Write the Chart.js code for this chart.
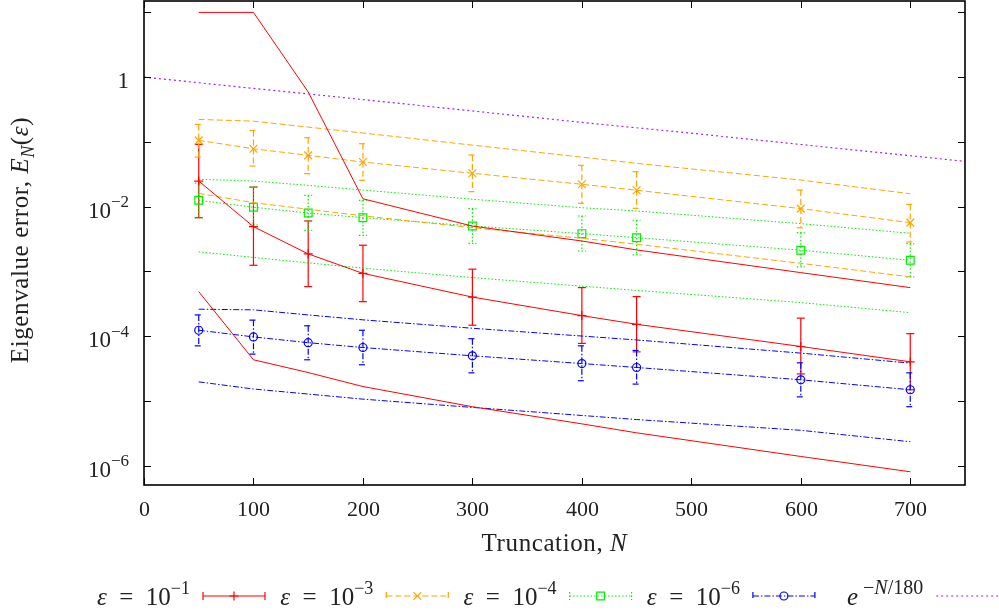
<!DOCTYPE html>
<html>
<head>
<meta charset="utf-8">
<script src="https://cdn.jsdelivr.net/npm/chart.js@4.4.1/dist/chart.umd.min.js"></script>
<style>
  body { margin: 0; background: #fff; }
  canvas { display: block; }
</style>
</head>
<body>
<canvas id="errChart" width="999" height="614"></canvas>
<script>
// truncation sizes where the errors were measured
const truncN = [50, 100, 150, 200, 300, 400, 450, 600, 700];

// eps = 1e-1
const e1Mean  = [0.0248, 4.9e-3, 1.86e-3, 9.3e-4, 4.0e-4, 2.07e-4, 1.52e-4, 6.9e-5, 4.0e-5];
const e1ErrHi = [0.0914, 0.020, 6.0e-3, 2.53e-3, 1.08e-3, 5.6e-4, 4.07e-4, 1.89e-4, 1.09e-4];
const e1ErrLo = [6.74e-3, 1.24e-3, 5.8e-4, 3.4e-4, 1.47e-4, 7.7e-5, 5.7e-5, 2.6e-5, 1.48e-5];
const e1Max   = [10, 10, 0.59, 0.0132, 5.0e-3, 2.94e-3, 2.14e-3, 9.55e-4, 5.6e-4];
const e1Min   = [4.86e-4, 4.3e-5, 2.73e-5, 1.66e-5, 8.1e-6, 4.4e-6, 3.2e-6, 1.38e-6, 8.0e-7];

// eps = 1e-3
const e3Mean  = [0.1055, 0.0783, 0.0619, 0.0488, 0.0327, 0.0221, 0.0179, 9.3e-3, 5.65e-3];
const e3ErrHi = [0.186, 0.150, 0.1157, 0.0935, 0.0626, 0.0434, 0.0346, 0.018, 0.0108];
const e3ErrLo = [0.0583, 0.0423, 0.0322, 0.0255, 0.017, 0.01125, 9.4e-3, 4.7e-3, 2.84e-3];
const e3Max   = [0.222, 0.209, 0.169, 0.137, 0.089, 0.058, 0.0466, 0.0257, 0.0158];
const e3Min   = [0.016, 0.0115, 9.1e-3, 7.2e-3, 4.72e-3, 3.24e-3, 2.62e-3, 1.33e-3, 8.2e-4];

// eps = 1e-4
const e4Mean  = [0.0125, 9.76e-3, 7.96e-3, 6.74e-3, 5.02e-3, 3.82e-3, 3.31e-3, 2.12e-3, 1.48e-3];
const e4ErrHi = [0.0231, 0.0202, 0.0149, 0.0125, 9.3e-3, 7.16e-3, 6.15e-3, 3.96e-3, 2.67e-3];
const e4ErrLo = [6.67e-3, 5.2e-3, 4.3e-3, 3.6e-3, 2.71e-3, 2.06e-3, 1.79e-3, 1.17e-3, 8.2e-4];
const e4Max   = [0.0264, 0.0248, 0.0213, 0.018, 0.013, 9.6e-3, 8.55e-3, 5.45e-3, 3.87e-3];
const e4Min   = [2.0e-3, 1.64e-3, 1.35e-3, 1.12e-3, 8.0e-4, 5.9e-4, 5.07e-4, 3.29e-4, 2.3e-4];

// eps = 1e-6
const e6Mean  = [1.23e-4, 9.7e-5, 7.9e-5, 6.65e-5, 4.95e-5, 3.76e-5, 3.27e-5, 2.11e-5, 1.48e-5];
const e6ErrHi = [2.12e-4, 1.76e-4, 1.44e-4, 1.23e-4, 9.1e-5, 7.06e-5, 6.0e-5, 3.86e-5, 2.7e-5];
const e6ErrLo = [7.06e-5, 5.26e-5, 4.3e-5, 3.6e-5, 2.7e-5, 2.04e-5, 1.81e-5, 1.15e-5, 8.1e-6];
const e6Max   = [2.6e-4, 2.54e-4, 2.12e-4, 1.78e-4, 1.32e-4, 1.0e-4, 8.7e-5, 5.45e-5, 3.82e-5];
const e6Min   = [1.96e-5, 1.52e-5, 1.27e-5, 1.06e-5, 7.9e-6, 5.93e-6, 5.13e-6, 3.5e-6, 2.33e-6];

// reference curve e^{-N/180}
const expN   = [0, 100, 200, 300, 400, 500, 600, 700, 750];
const expVal = [1.0, 0.67, 0.45, 0.30, 0.20, 0.136, 0.091, 0.061, 0.050];

// axis ticks
const xTicks = [0, 100, 200, 300, 400, 500, 600, 700];
const yDecades = [10, 1, 1e-1, 1e-2, 1e-3, 1e-4, 1e-5, 1e-6];
const yLabelVals = [1, 1e-2, 1e-4, 1e-6];
const yLabelBase = ['1', '10', '10', '10'];
const yLabelSup  = ['', '\u22122', '\u22124', '\u22126'];

const legendExp = ['\u22121', '\u22123', '\u22124', '\u22126'];

const serif = '"Liberation Serif", "DejaVu Serif", serif';

const pts = (xs, ys) => xs.map((x, i) => ({ x: x, y: ys[i] }));

const series = [
  { col: '#ff0000', dash: [],              marker: 'cross',    r: 4.5, mean: e1Mean, hi: e1ErrHi, lo: e1ErrLo, max: e1Max, min: e1Min },
  { col: '#ffa500', dash: [6, 3],          marker: 'crossRot', r: 5.5, mean: e3Mean, hi: e3ErrHi, lo: e3ErrLo, max: e3Max, min: e3Min },
  { col: '#00ee00', dash: [1.5, 2],        marker: 'rect',     r: 5.5, mean: e4Mean, hi: e4ErrHi, lo: e4ErrLo, max: e4Max, min: e4Min },
  { col: '#0000ff', dash: [6, 2, 1.5, 2],  marker: 'circle',   r: 4,   mean: e6Mean, hi: e6ErrHi, lo: e6ErrLo, max: e6Max, min: e6Min }
];
const expCol = '#a020f0';
const expDash = [2, 3];

const datasets = [];
series.forEach((s) => {
  datasets.push({
    data: pts(truncN, s.mean), borderColor: s.col, borderWidth: 1, borderDash: s.dash,
    pointStyle: s.marker, pointRadius: s.r, pointBorderColor: s.col, pointBackgroundColor: 'rgba(0,0,0,0)',
    pointBorderWidth: 1.2
  });
  [s.max, s.min].forEach((arr) => {
    datasets.push({
      data: pts(truncN, arr), borderColor: s.col, borderWidth: 1, borderDash: s.dash, pointRadius: 0
    });
  });
});
datasets.push({
  data: pts(expN, expVal), borderColor: expCol, borderWidth: 1.2, borderDash: expDash, pointRadius: 0
});

function fontFor(seg, size) {
  const sz = (seg.sup || seg.sub) ? Math.round(size * (seg.k || 0.72)) : size;
  return (seg.it ? 'italic ' : '') + sz + 'px ' + serif;
}
function richWidth(ctx, segs, size) {
  let w = 0;
  segs.forEach((s) => { ctx.font = fontFor(s, size); w += ctx.measureText(s.t).width; });
  return w;
}
function drawRich(ctx, segs, x, y, size, align) {
  const w = richWidth(ctx, segs, size);
  let cx = align === 'right' ? x - w : align === 'center' ? x - w / 2 : x;
  ctx.textAlign = 'left';
  ctx.textBaseline = 'alphabetic';
  segs.forEach((s) => {
    ctx.font = fontFor(s, size);
    const dy = s.sup ? -size * 0.45 : s.sub ? size * 0.22 : 0;
    ctx.fillText(s.t, cx, y + dy);
    cx += ctx.measureText(s.t).width;
  });
}
function seg(ctx, x1, y1, x2, y2) {
  ctx.beginPath(); ctx.moveTo(x1, y1); ctx.lineTo(x2, y2); ctx.stroke();
}
function errBar(ctx, x, yTop, yBot, cap) {
  seg(ctx, x, yTop, x, yBot);
  seg(ctx, x - cap, yTop, x + cap, yTop);
  seg(ctx, x - cap, yBot, x + cap, yBot);
}

const errorBars = {
  id: 'errorBars',
  beforeDatasetsDraw(chart) {
    const ctx = chart.ctx, xs = chart.scales.x, ys = chart.scales.y, a = chart.chartArea;
    ctx.save();
    ctx.beginPath(); ctx.rect(a.left, a.top, a.right - a.left, a.bottom - a.top); ctx.clip();
    series.forEach((s) => {
      ctx.strokeStyle = s.col; ctx.lineWidth = 1.2; ctx.setLineDash(s.dash);
      truncN.forEach((n, i) => {
        const px = xs.getPixelForValue(n);
        errBar(ctx, px, ys.getPixelForValue(s.hi[i]), ys.getPixelForValue(s.lo[i]), 4);
      });
    });
    ctx.restore();
  }
};

const frame = {
  id: 'frame',
  afterDraw(chart) {
    const ctx = chart.ctx, xs = chart.scales.x, ys = chart.scales.y, a = chart.chartArea;
    ctx.save();
    ctx.strokeStyle = '#000'; ctx.fillStyle = '#222'; ctx.setLineDash([]);
    ctx.lineWidth = 1;
    xTicks.forEach((v) => {
      const px = Math.round(xs.getPixelForValue(v)) + 0.5;
      seg(ctx, px, a.bottom, px, a.bottom - 7);
      seg(ctx, px, a.top, px, a.top + 7);
      ctx.font = '22px ' + serif; ctx.textAlign = 'center'; ctx.textBaseline = 'alphabetic';
      ctx.fillText(String(v), px, a.bottom + 31);
    });
    yDecades.forEach((v) => {
      const py = Math.round(ys.getPixelForValue(v)) + 0.5;
      seg(ctx, a.left, py, a.left + 7, py);
      seg(ctx, a.right, py, a.right - 7, py);
    });
    yLabelVals.forEach((v, i) => {
      const py = ys.getPixelForValue(v);
      const segs = [{ t: yLabelBase[i] }];
      if (yLabelSup[i]) segs.push({ t: yLabelSup[i], sup: true });
      drawRich(ctx, segs, a.left - 15, py + 11, 23, 'right');
    });
    ctx.lineWidth = 1.6;
    ctx.strokeRect(a.left, a.top, a.right - a.left, a.bottom - a.top);

    // axis titles
    ctx.letterSpacing = '0.6px';
    drawRich(ctx, [{ t: 'Truncation, ' }, { t: 'N', it: true }], (a.left + a.right) / 2, 551, 25, 'center');
    ctx.save();
    ctx.translate(28, 240);
    ctx.rotate(-Math.PI / 2);
    drawRich(ctx, [{ t: 'Eigenvalue error, ' }, { t: 'E', it: true }, { t: 'N', it: true, sub: true },
      { t: '(' }, { t: '\u03b5', it: true }, { t: ')' }], 0, 0, 25, 'center');
    ctx.restore();
    ctx.letterSpacing = '0px';

    // key along the bottom
    const keyY = 596, baseY = 605;
    for (let k = 0; k < 5; k++) {
      const textEnd = 190 + k * 183.3;
      const sx1 = textEnd + 13, sx2 = textEnd + 75;
      ctx.fillStyle = '#222';
      if (k < 4) {
        drawRich(ctx, [{ t: '\u03b5', it: true }, { t: '\u2002=\u200210' }, { t: legendExp[k], sup: true }], textEnd, baseY, 25, 'right');
        const s = series[k];
        ctx.strokeStyle = s.col; ctx.lineWidth = 1.2; ctx.setLineDash(s.dash);
        seg(ctx, sx1, keyY, sx2, keyY);
        seg(ctx, sx1, keyY - 4, sx1, keyY + 4);
        seg(ctx, sx2, keyY - 4, sx2, keyY + 4);
        ctx.setLineDash([]);
        ctx.fillStyle = 'rgba(0,0,0,0)';
        Chart.helpers.drawPoint(ctx, { pointStyle: s.marker, radius: s.r, borderWidth: 1.2 }, (sx1 + sx2) / 2, keyY);
      } else {
        drawRich(ctx, [{ t: 'e', it: true }, { t: ' \u2212', sup: true, k: 0.8 }, { t: 'N', it: true, sup: true, k: 0.8 },
          { t: '/180', sup: true, k: 0.8 }], textEnd, baseY, 25, 'right');
        ctx.strokeStyle = expCol; ctx.lineWidth = 1.2; ctx.setLineDash(expDash);
        seg(ctx, sx1, keyY, sx2, keyY);
      }
    }
    ctx.restore();
  }
};

new Chart(document.getElementById('errChart'), {
  type: 'line',
  data: { datasets: datasets },
  options: {
    responsive: false,
    animation: false,
    layout: { autoPadding: false, padding: { left: 144, right: 34, top: 1, bottom: 129 } },
    plugins: { legend: { display: false }, tooltip: { enabled: false } },
    scales: {
      x: { type: 'linear', min: 0, max: 750, display: false },
      y: { type: 'logarithmic', min: 5e-7, max: 15, display: false }
    }
  },
  plugins: [errorBars, frame]
});
</script>
</body>
</html>
